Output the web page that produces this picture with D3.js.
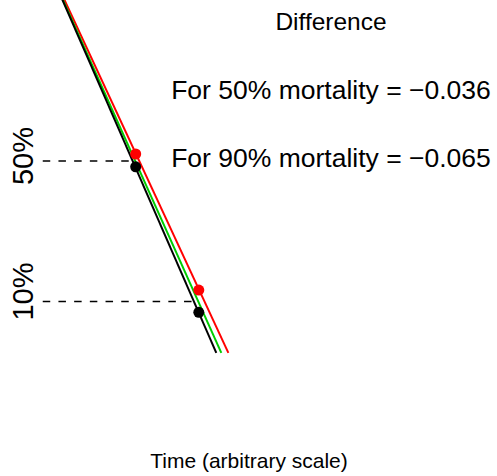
<!DOCTYPE html>
<html>
<head>
<meta charset="utf-8">
<script src="https://cdn.jsdelivr.net/npm/d3@7"></script>
<style>
  html, body { margin: 0; padding: 0; background: #fff; }
  svg text { font-family: "Liberation Sans", Arial, Helvetica, sans-serif; fill: #000; }
</style>
</head>
<body>
<svg id="chart" width="497" height="476"></svg>
<script>
// ---- data ----
const lineProbs = [0.96, 0.04];          // mortality at line ends
const blackLine = [9.86, 43.52];          // time at those probabilities
const greenLine = [9.88, 44.53];
const redLine   = [10.09, 45.95];

const levelProbs = [0.5, 0.1];            // reference mortality levels
const levelLabels = ["50%", "10%"];
const levelTimes = [27.3, 40.0];          // time where reference line crosses level
const dashStartTime = 8.6;

const redPointProbs   = [0.5255, 0.1196];
const blackPointProbs = [0.479, 0.0837];

const diffTitle = "Difference";
const diffLabels = ["For 50% mortality = \u22120.036", "For 90% mortality = \u22120.065"];
const xLabel = "Time (arbitrary scale)";

// ---- probit ----
function qnorm(p) {
  const a = [-3.969683028665376e+01, 2.209460984245205e+02, -2.759285104469687e+02, 1.383577518672690e+02, -3.066479806614716e+01, 2.506628277459239e+00];
  const b = [-5.447609879822406e+01, 1.615858368580409e+02, -1.556989798598866e+02, 6.680131188771972e+01, -1.328068155288572e+01];
  const c = [-7.784894002430293e-03, -3.223964580411365e-01, -2.400758277161838e+00, -2.549732539343734e+00, 4.374664141464968e+00, 2.938163982698783e+00];
  const d = [7.784695709041462e-03, 3.224671290700398e-01, 2.445134137142996e+00, 3.754408661907416e+00];
  const pl = 0.02425, ph = 1 - pl;
  let q, r;
  if (p < pl) { q = Math.sqrt(-2 * Math.log(p)); return (((((c[0]*q+c[1])*q+c[2])*q+c[3])*q+c[4])*q+c[5]) / ((((d[0]*q+d[1])*q+d[2])*q+d[3])*q+1); }
  if (p <= ph) { q = p - 0.5; r = q*q; return (((((a[0]*r+a[1])*r+a[2])*r+a[3])*r+a[4])*r+a[5])*q / (((((b[0]*r+b[1])*r+b[2])*r+b[3])*r+b[4])*r+1); }
  q = Math.sqrt(-2 * Math.log(1 - p)); return -(((((c[0]*q+c[1])*q+c[2])*q+c[3])*q+c[4])*q+c[5]) / ((((d[0]*q+d[1])*q+d[2])*q+d[3])*q+1);
}

const svg = d3.select("#chart");
const x = d3.scaleLinear().domain([0, 100]).range([0, 497]);
const yLin = d3.scaleLinear().domain([qnorm(0.1), 0]).range([301.5, 161]);
const y = p => yLin(qnorm(p));

// dashed reference lines
svg.selectAll("line.ref").data(levelProbs).enter().append("line")
  .attr("x1", x(dashStartTime))
  .attr("x2", (d, i) => x(levelTimes[i]))
  .attr("y1", d => y(d)).attr("y2", d => y(d))
  .attr("stroke", "#000").attr("stroke-width", 1.7)
  .attr("stroke-dasharray", "7.5,8.2");

// fitted lines
const lines = [
  { t: redLine, color: "#ff0000" },
  { t: greenLine, color: "#00cd00" },
  { t: blackLine, color: "#000000" }
];
const lineGen = d3.line().x(d => x(d[0])).y(d => y(d[1]));
svg.selectAll("path.fit").data(lines).enter().append("path")
  .attr("d", L => lineGen(L.t.map((t, i) => [t, lineProbs[i]])))
  .attr("fill", "none").attr("stroke", L => L.color).attr("stroke-width", 2);

// points
svg.selectAll("circle.red").data(redPointProbs).enter().append("circle")
  .attr("cx", (d, i) => x(levelTimes[i])).attr("cy", d => y(d))
  .attr("r", 5.5).attr("fill", "#ff0000");
svg.selectAll("circle.black").data(blackPointProbs).enter().append("circle")
  .attr("cx", (d, i) => x(levelTimes[i])).attr("cy", d => y(d))
  .attr("r", 5.5).attr("fill", "#000");

// y labels
const labelNudge = [-5, -10];
svg.selectAll("text.ylab").data(levelProbs).enter().append("text")
  .attr("transform", (d, i) => `translate(33,${y(d) + labelNudge[i]}) rotate(-90)`)
  .attr("text-anchor", "middle")
  .attr("font-size", 29)
  .text((d, i) => levelLabels[i]);

// annotation text
svg.append("text").attr("x", 331).attr("y", 30).attr("text-anchor", "middle")
  .attr("font-size", 24.5).text(diffTitle);
svg.selectAll("text.diff").data(diffLabels).enter().append("text")
  .attr("x", 331).attr("y", (d, i) => 98.5 + i * 68).attr("text-anchor", "middle")
  .attr("font-size", 26.5).text(d => d);

// x label
svg.append("text").attr("x", 249).attr("y", 468).attr("text-anchor", "middle")
  .attr("font-size", 21).text(xLabel);
</script>
</body>
</html>
